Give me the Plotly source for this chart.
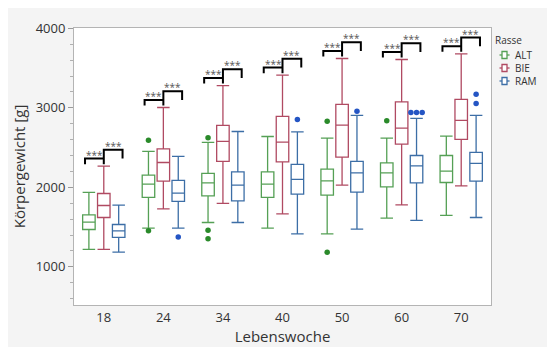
import plotly.graph_objects as go

# ---------------- data ----------------
weeks = ['18', '24', '34', '40', '50', '60', '70']
breeds = ['ALT', 'BIE', 'RAM']

alt_q1 = [1470, 1873, 1893, 1873, 1902, 2006, 2061]
alt_med = [1562, 2040, 2057, 2040, 2082, 2183, 2204]
alt_q3 = [1654, 2154, 2175, 2195, 2229, 2308, 2401]
alt_lo = [1219, 1487, 1558, 1487, 1415, 1613, 1647]
alt_hi = [1936, 2452, 2565, 2640, 2619, 2619, 2644]

bie_q1 = [1621, 2078, 2326, 2321, 2380, 2544, 2603]
bie_med = [1772, 2313, 2578, 2569, 2783, 2745, 2842]
bie_q3 = [1923, 2485, 2779, 2892, 3043, 3076, 3106]
bie_lo = [1219, 1730, 1798, 1667, 2028, 1780, 2019]
bie_hi = [2267, 3005, 3281, 3412, 3621, 3609, 3680]

ram_q1 = [1370, 1823, 1830, 1915, 1940, 2057, 2078]
ram_med = [1453, 1927, 2028, 2100, 2183, 2271, 2301]
ram_q3 = [1533, 2087, 2195, 2288, 2326, 2401, 2439]
ram_lo = [1185, 1487, 1558, 1415, 1474, 1584, 1621]
ram_hi = [1776, 2389, 2703, 2698, 2905, 2867, 2905]

alt_out_week = ['24', '24', '34', '34', '34', '50', '50', '60']
alt_out_val = [2594, 1453, 2623, 1462, 1352, 2833, 1185, 2837]
bie_out_week = []
bie_out_val = []
ram_out_week = ['24', '40', '50', '60', '60', '60', '70', '70']
ram_out_val = [1377, 2854, 2959, 2942, 2942, 2942, 3173, 3056]

sig_labels = ['***', '***']

y_ticks = [1000, 2000, 3000, 4000]

# ---------------- styles ----------------
FONT = 'Open Sans'
line_cols = {'ALT': '#55a055', 'BIE': '#b04a62', 'RAM': '#3c6ea6'}
pt_cols = {'ALT': '#2a8a2a', 'BIE': '#b04a62', 'RAM': '#2455c4'}
offsets = {'ALT': -0.25, 'BIE': 0.0, 'RAM': 0.25}
BOX_W = 0.21

stats = {
    'ALT': (alt_q1, alt_med, alt_q3, alt_lo, alt_hi, alt_out_week, alt_out_val),
    'BIE': (bie_q1, bie_med, bie_q3, bie_lo, bie_hi, bie_out_week, bie_out_val),
    'RAM': (ram_q1, ram_med, ram_q3, ram_lo, ram_hi, ram_out_week, ram_out_val),
}

fig = go.Figure()
for b in breeds:
    q1, med, q3, lo, hi, ow, ov = stats[b]
    xs = [i + offsets[b] for i in range(len(weeks))]
    fig.add_trace(go.Box(
        x=xs, q1=q1, median=med, q3=q3, lowerfence=lo, upperfence=hi,
        width=BOX_W, whiskerwidth=1, boxpoints=False,
        line=dict(color=line_cols[b], width=1.3),
        fillcolor='rgba(255,255,255,0)', name=b, showlegend=False,
    ))
    # outliers, spreading points with near-identical values side by side
    if ow:
        px, py = [], []
        groups = {}
        for w, v in zip(ow, ov):
            key = (w, round(v / 40))
            groups.setdefault(key, []).append(v)
        for (w, _), vals in groups.items():
            n = len(vals)
            for k, v in enumerate(vals):
                px.append(weeks.index(w) + offsets[b] + (k - (n - 1) / 2) * 0.095)
                py.append(v)
        fig.add_trace(go.Scatter(
            x=px, y=py, mode='markers', showlegend=False,
            marker=dict(color=pt_cols[b], size=5.5, line=dict(width=0)),
        ))

# significance brackets
shapes = []
annotations = []
XA = 0.315
for i in range(len(weeks)):
    top = max(alt_hi[i], bie_hi[i], ram_hi[i])
    y1 = top + 95
    y2 = top + 205
    leg = 70
    a, m, c = i - XA, i, i + XA
    path = (f'M {a},{y1 - leg} L {a},{y1} L {m},{y1} L {m},{y1 - leg} '
            f'M {m},{y1} L {m},{y2} L {c},{y2} L {c},{y1}')
    shapes.append(dict(type='path', xref='x', yref='y', path=path,
                       line=dict(color='black', width=2)))
    annotations.append(dict(x=(a + m) / 2, y=y1, xref='x', yref='y', text=sig_labels[0],
                            showarrow=False, yanchor='bottom', yshift=-4, borderpad=0,
                            font=dict(family=FONT, size=10, color='#555555')))
    annotations.append(dict(x=(m + c) / 2, y=y2, xref='x', yref='y', text=sig_labels[1],
                            showarrow=False, yanchor='bottom', yshift=-4, borderpad=0,
                            font=dict(family=FONT, size=10, color='#555555')))

# page background: grey with thin white strips at top and left
PW, PH, L, T, R, B = 547, 347, 74, 28, 56, 42
pw, ph = PW - L - R, PH - T - B
def px2paper_x(p):
    return (p - L) / pw
def px2paper_y(p):
    return (PH - B - p) / ph
shapes.append(dict(type='rect', xref='paper', yref='paper', layer='below',
                   x0=px2paper_x(8), x1=px2paper_x(PW + 2),
                   y0=px2paper_y(PH + 2), y1=px2paper_y(8),
                   fillcolor='#f4f4f4', line=dict(width=0)))
shapes.append(dict(type='rect', xref='paper', yref='paper', layer='below',
                   x0=0, x1=1, y0=0, y1=1, fillcolor='white', line=dict(width=0)))

# custom legend
annotations.append(dict(x=px2paper_x(494), y=px2paper_y(40), xref='paper', yref='paper',
                        text='Rasse', showarrow=False, xanchor='left', yanchor='middle',
                        borderpad=0, font=dict(family=FONT, size=10, color='#333333')))
for k, b in enumerate(breeds):
    yy = px2paper_y(55 + 13 * k)
    xx = px2paper_x(504.5)
    shapes.append(dict(type='line', xref='paper', yref='paper', xsizemode='pixel',
                       ysizemode='pixel', xanchor=xx, yanchor=yy,
                       x0=-5, x1=5, y0=0, y1=0,
                       line=dict(color=line_cols[b], width=1.3)))
    shapes.append(dict(type='rect', xref='paper', yref='paper', xsizemode='pixel',
                       ysizemode='pixel', xanchor=xx, yanchor=yy,
                       x0=-2.5, x1=2.5, y0=-3.5, y1=3.5, fillcolor='white',
                       line=dict(color=line_cols[b], width=1.3)))
    annotations.append(dict(x=px2paper_x(514), y=yy, xref='paper', yref='paper',
                            text=b, showarrow=False, xanchor='left', yanchor='middle',
                            borderpad=0, font=dict(family=FONT, size=10, color='#333333')))

fig.update_layout(
    width=PW, height=PH,
    margin=dict(l=L, r=R, t=T, b=B, pad=0, autoexpand=False),
    paper_bgcolor='white', plot_bgcolor='white',
    font=dict(family=FONT, color='#333333'),
    showlegend=False,
    shapes=shapes, annotations=annotations,
    xaxis=dict(range=[-0.5, len(weeks) - 0.5], tickvals=list(range(len(weeks))),
               ticktext=weeks, showgrid=False, zeroline=False, showline=True,
               linecolor='#b4b4b4', linewidth=1, mirror=True, ticks='',
               automargin=False,
               tickfont=dict(size=13, color='#333333'),
               title=dict(text='Lebenswoche', font=dict(size=15, color='#333333'), standoff=4)),
    yaxis=dict(range=[520, 4005], tickvals=y_ticks, showgrid=False, zeroline=False,
               showline=True, linecolor='#b4b4b4', linewidth=1, mirror=True,
               ticks='outside', ticklen=5, tickcolor='#9a9a9a', automargin=False,
               minor=dict(dtick=200, ticks='outside', ticklen=3, tickcolor='#b0b0b0'),
               tickfont=dict(size=13, color='#333333'),
               title=dict(text='Körpergewicht [g]', font=dict(size=15, color='#333333'), standoff=6)),
)

fig.write_html('out.html')
